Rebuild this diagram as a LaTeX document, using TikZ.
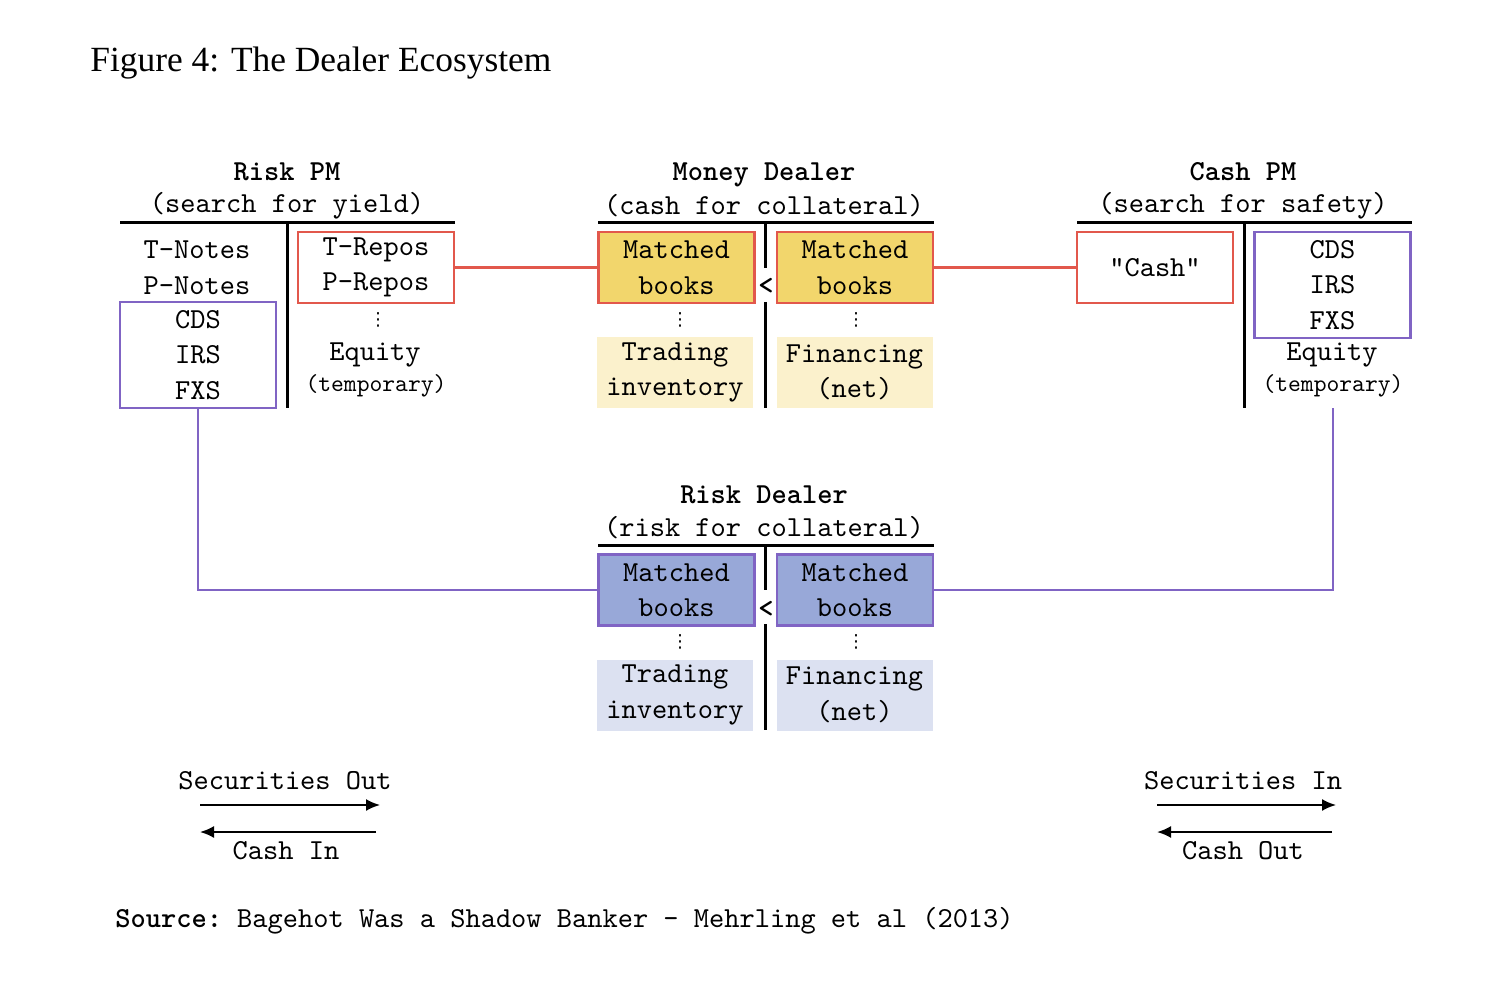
\documentclass[tikz,border=0pt]{standalone}
\usepackage{fontspec}
\setmainfont{Liberation Serif}
\setmonofont{lmmono10-regular.otf}[BoldFont=lmmonolt10-bold.otf]
\newfontfamily\symfont{DejaVu Sans}
\usetikzlibrary{arrows.meta}
\usepackage{xcolor}
\definecolor{repored}{RGB}{226,88,76}
\definecolor{riskpurple}{RGB}{128,100,196}
\definecolor{moneyfill}{RGB}{242,214,108}
\definecolor{moneylight}{RGB}{251,241,204}
\definecolor{riskfill}{RGB}{152,168,216}
\definecolor{risklight}{RGB}{220,225,241}

\tikzset{
  every node/.style={font=\ttfamily\fontsize{14.5}{17.75}\selectfont, inner sep=0pt, align=center},
  head/.style={font=\ttfamily\bfseries\fontsize{14.5}{17.75}\selectfont, anchor=base},
  small/.style={font=\ttfamily\fontsize{12.2}{14}\selectfont},
  tline/.style={black, line width=1.5pt},
  bookbox/.style={minimum width=78pt, minimum height=35.5pt},
  redbox/.style={bookbox, draw=repored, line width=1.4pt},
  purpbox/.style={draw=riskpurple, line width=1.4pt, minimum width=78pt},
  redline/.style={repored, line width=1.4pt},
  purpline/.style={riskpurple, line width=1.4pt},
  dots/.style={font=\symfont\fontsize{9}{9}\selectfont},
  flow/.style={black, line width=1pt, -{Latex[length=7pt,width=6pt]}}
}

\begin{document}
\begin{tikzpicture}[x=0.5pt, y=-0.5pt]
\useasboundingbox (0,0) rectangle (1488,989);

\node[anchor=base west, font=\rmfamily\fontsize{17.7}{20}\selectfont] (title) at (90,72) {Figure 4: The Dealer Ecosystem};

% T-accounts
\foreach \cx in {287,1244} {
 \draw[tline] (\cx-167,223) -- (\cx+168,223);
 \draw[tline] (\cx,223) -- (\cx,408);
}
\foreach \cy in {223,545} {
 \draw[tline] (598,\cy) -- (934,\cy);
 \draw[tline] (765,\cy) -- (765,\cy+45);
 \draw[tline] (765,\cy+79) -- (765,\cy+185);
 \node[head] at (766,\cy+72) {<};
}

% Risk PM
\node[head] (rpm) at (287,181) {Risk PM};
\node (rpmsub) at (287,206) {(search for yield)};
\node (tnotes) at (197,250) {T-Notes};
\node (pnotes) at (197,286) {P-Notes};
\node[purpbox, minimum height=53pt] (rswaps) at (198,355) {CDS\\IRS\\FXS};
\node[redbox] (repos) at (376,267.5) {T-Repos\\P-Repos};
\node[dots] at (378,320) {⋮};
\node (requity) at (375,355) {Equity};
\node[small] (rtemp) at (376,386) {(temporary)};

% Money Dealer
\node[head] (md) at (764,181) {Money Dealer};
\node (mdsub) at (764,206) {(cash for collateral)};
\node[redbox, fill=moneyfill] (mbl) at (676.5,267.5) {Matched\\books};
\node[redbox, fill=moneyfill] (mbr) at (855,267.5) {Matched\\books};
\node[dots] at (680,320) {⋮};
\node[dots] at (856,320) {⋮};
\node[bookbox, fill=moneylight] (mtrade) at (675,372.5) {Trading\\inventory};
\node[bookbox, fill=moneylight] (mfin) at (854.5,372.5) {Financing\\(net)};

% Cash PM
\node[head] (cpm) at (1243,181) {Cash PM};
\node (cpmsub) at (1243,206) {(search for safety)};
\node[redbox] (cash) at (1155,267.5) {"Cash"};
\node[purpbox, minimum height=53pt] (cswaps) at (1332.5,285) {CDS\\IRS\\FXS};
\node (cequity) at (1332,355) {Equity};
\node[small] (ctemp) at (1333,386) {(temporary)};
\coordinate (cend) at (1333,408);

% Risk Dealer
\node[head] (rd) at (764,503) {Risk Dealer};
\node (rdsub) at (764,528) {(risk for collateral)};
\node[bookbox, draw=riskpurple, line width=1.4pt, fill=riskfill] (rbl) at (676.5,590) {Matched\\books};
\node[bookbox, draw=riskpurple, line width=1.4pt, fill=riskfill] (rbr) at (855,590) {Matched\\books};
\node[dots] at (680,642) {⋮};
\node[dots] at (856,642) {⋮};
\node[bookbox, fill=risklight] (rtrade) at (675,695) {Trading\\inventory};
\node[bookbox, fill=risklight] (rfin) at (854.5,695) {Financing\\(net)};

% connectors
\draw[redline] (repos.east) -- (mbl.west);
\draw[redline] (mbr.east) -- (cash.west);
\draw[purpline] (rswaps.south) |- (rbl.west);
\draw[purpline] (rbr.east) -| (cend);

% legend
\node (secout) at (285,781) {Securities Out};
\node (cashin) at (286,851) {Cash In};
\coordinate (lo1) at (200,805); \coordinate (lo2) at (380,805);
\coordinate (li1) at (376,832); \coordinate (li2) at (200,832);
\draw[flow] (lo1) -- (lo2);
\draw[flow] (li1) -- (li2);
\node (secin) at (1243,781) {Securities In};
\node (cashout) at (1243,851) {Cash Out};
\coordinate (ro1) at (1157,805); \coordinate (ro2) at (1336,805);
\coordinate (ri1) at (1332,832); \coordinate (ri2) at (1157,832);
\draw[flow] (ro1) -- (ro2);
\draw[flow] (ri1) -- (ri2);

\node[anchor=west] (source) at (115,921) {\textbf{Source:} Bagehot Was a Shadow Banker - Mehrling et al (2013)};
\end{tikzpicture}
\end{document}
